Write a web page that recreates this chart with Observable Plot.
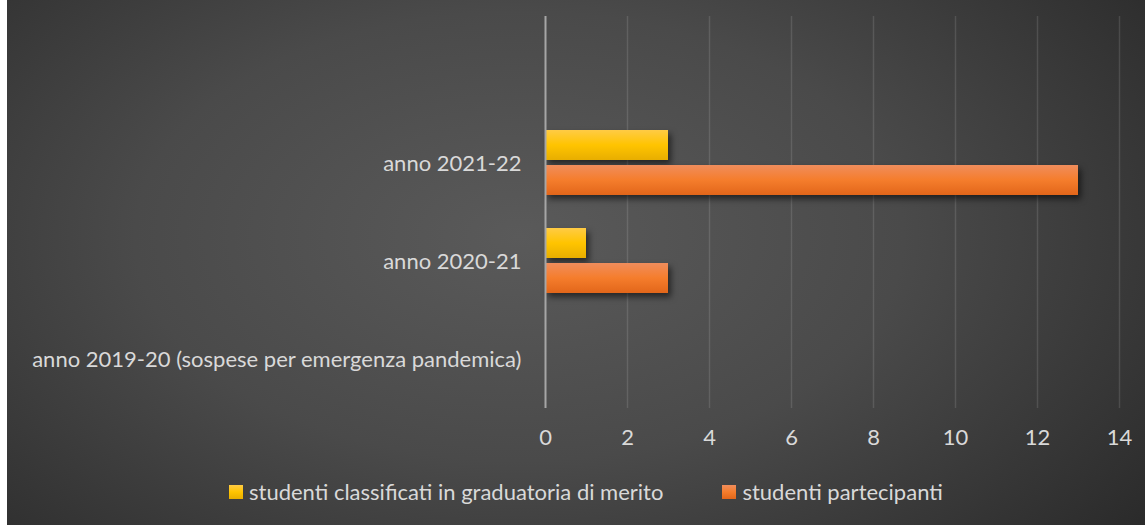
<!DOCTYPE html>
<html>
<head>
<meta charset="utf-8">
<script src="https://cdn.jsdelivr.net/npm/d3@7"></script>
<script src="https://cdn.jsdelivr.net/npm/@observablehq/plot@0.6"></script>
<style>
  html, body { margin: 0; padding: 0; background: #ffffff; }
  #wrap { position: relative; width: 1145px; height: 525px; background: #ffffff; overflow: hidden; }
  #chart {
    position: absolute; left: 7px; top: 0; width: 1138px; height: 525px;
    background: radial-gradient(ellipse 75% 95% at 45% 45%, #5a5a5a 0%, #4a4a4a 45%, #262626 100%);
  }
</style>
</head>
<body>
<div id="wrap"><div id="chart"></div></div>
<script>
const categories = ["", "anno 2021-22", "anno 2020-21", "anno 2019-20 (sospese per emergenza pandemica)"];
const seriesNames = ["studenti classificati in graduatoria di merito", "studenti partecipanti"];
const classificati = [null, 3, 1, 0];
const partecipanti = [null, 13, 3, 0];
const xTicks = [0, 2, 4, 6, 8, 10, 12, 14];

const rowsA = categories.map((c, i) => ({category: c, series: seriesNames[0], value: classificati[i]})).filter(d => d.value != null);
const rowsB = categories.map((c, i) => ({category: c, series: seriesNames[1], value: partecipanti[i]})).filter(d => d.value != null);

const FONT = "Lato";
const FS = 22;
const chart = Plot.plot({
  width: 1138,
  height: 470,
  marginLeft: 538,
  marginRight: 26,
  marginTop: 16,
  marginBottom: 62,
  style: {background: "transparent", color: "#d9d9d9", fontFamily: FONT, fontSize: FS + "px"},
  x: {domain: [0, 14], ticks: xTicks},
  y: {domain: categories, padding: 0},
  marks: [
    Plot.gridX(xTicks.filter(t => t > 0), {stroke: "#ffffff", strokeOpacity: 0.12, strokeWidth: 1.5}),
    Plot.barX(rowsA, {x: "value", y: "category", fill: "url(#gradY)", insetTop: 16, insetBottom: 52}),
    Plot.barX(rowsB, {x: "value", y: "category", fill: "url(#gradO)", insetTop: 51, insetBottom: 17}),
    Plot.ruleX([0], {stroke: "#a6a6a6", strokeWidth: 2}),
    Plot.axisX({ticks: xTicks, tickSize: 0, tickPadding: 21, fontSize: FS, label: null}),
    Plot.axisY({tickSize: 0, tickPadding: 24, fontSize: FS, label: null})
  ]
});

const ns = "http://www.w3.org/2000/svg";
const defs = document.createElementNS(ns, "defs");
defs.innerHTML = `
<linearGradient id="gradY" x1="0" y1="0" x2="0" y2="1">
  <stop offset="0" stop-color="#ffcb45"/><stop offset="0.5" stop-color="#ffc400"/><stop offset="1" stop-color="#e8ae00"/>
</linearGradient>
<linearGradient id="gradO" x1="0" y1="0" x2="0" y2="1">
  <stop offset="0" stop-color="#f08d5c"/><stop offset="0.5" stop-color="#f57d2c"/><stop offset="1" stop-color="#e2661a"/>
</linearGradient>`;
chart.insertBefore(defs, chart.firstChild);
chart.querySelectorAll('g[aria-label="bar"]').forEach(g => {
  g.style.filter = "drop-shadow(3px 4px 3px rgba(0,0,0,0.55))";
});
chart.style.position = "absolute";
chart.style.left = "0px";
chart.style.top = "0px";
document.getElementById("chart").appendChild(chart);

// legend (HTML, below the SVG)
const legend = document.createElement("div");
legend.style.cssText = `position:absolute; left:222px; top:478px; display:flex; align-items:center; gap:59px; font-family:${FONT}; font-size:${FS}px; color:#d9d9d9; white-space:nowrap;`;
const grads = ["linear-gradient(#ffcb45,#ffc400 50%,#e8ae00)", "linear-gradient(#f08d5c,#f57d2c 50%,#e2661a)"];
seriesNames.forEach((name, i) => {
  const item = document.createElement("div");
  item.style.cssText = "display:flex; align-items:center; gap:6px;";
  const sw = document.createElement("span");
  sw.style.cssText = `display:inline-block; width:14px; height:14px; background:${grads[i]};`;
  const tx = document.createElement("span");
  tx.textContent = name;
  item.appendChild(sw); item.appendChild(tx);
  legend.appendChild(item);
});
document.getElementById("chart").appendChild(legend);
</script>
</body>
</html>
